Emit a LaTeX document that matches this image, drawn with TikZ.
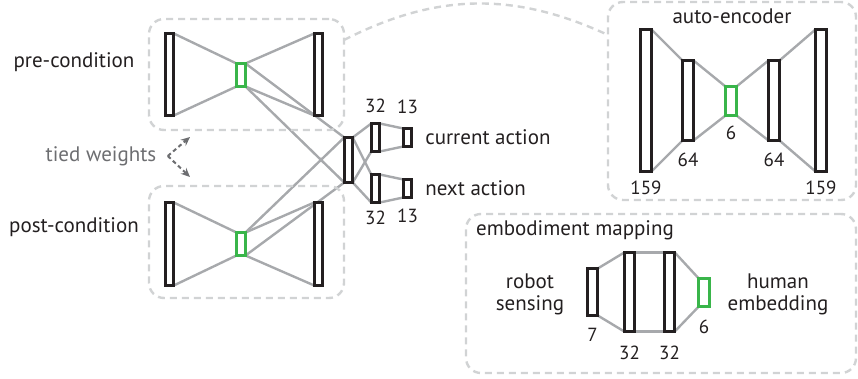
\documentclass[tikz,border=0pt]{standalone}
\usepackage{fontspec}
\setmainfont{PT Sans}
\usetikzlibrary{positioning,arrows.meta,backgrounds}
\definecolor{ink}{HTML}{231F20}
\definecolor{wiregray}{HTML}{A7A9AC}
\definecolor{framegray}{HTML}{D1D3D4}
\definecolor{tiegray}{HTML}{6D6E71}
\definecolor{codegreen}{HTML}{39B54A}
\begin{document}
\begin{tikzpicture}[x=1pt, y=-1pt, node distance=5pt,
  every node/.style={font=\fontsize{21}{22}\selectfont, text=ink},
  num/.style={font=\fontsize{19}{21}\selectfont},
  layer/.style={draw=ink, fill=white, line width=2.6pt, inner sep=0pt, outer sep=0pt, minimum width=8.5pt},
  wide/.style={layer, minimum width=11pt},
  latent/.style={draw=codegreen},
  wire/.style={draw=wiregray, line width=2.4pt},
  group/.style={draw=framegray, line width=2.4pt, dash pattern=on 7pt off 5pt, rounded corners=15pt, inner sep=0pt, outer sep=0pt},
  tie/.style={draw=tiegray, line width=2pt, dash pattern=on 4pt off 3pt, -{Stealth[length=9pt, width=8pt]}}]
\useasboundingbox (0,0) rectangle (858,379);
\node[group, minimum width=195pt, minimum height=111pt] (preBox) at (246.5,74.5) {};
\node[group, minimum width=195pt, minimum height=112pt] (postBox) at (246.5,242) {};
\node[group, minimum width=248pt, minimum height=198pt] (aeBox) at (732,101) {};
\node[group, minimum width=390pt, minimum height=159pt] (emBox) at (661,293.5) {};
\draw[group] ([yshift=-21pt]preBox.north east) to[bend left=26] ([yshift=-33pt]aeBox.north west);

\node[layer, minimum height=82pt] (preIn) at (169.5,74.5) {};
\node[layer, latent, minimum width=9pt, minimum height=23pt] (preCode) at (241,75) {};
\node[layer, minimum height=82pt] (preOut) at (318.5,74.5) {};
\node[layer, minimum height=83pt] (postIn) at (169.5,244) {};
\node[layer, latent, minimum width=9pt, minimum height=23pt] (postCode) at (241,244) {};
\node[layer, minimum height=83pt] (postOut) at (318.5,244) {};
\node[layer, minimum height=45pt] (joint) at (348.5,160) {};
\node[layer, minimum height=28pt] (curHid) at (375.5,137.5) {};
\node[layer, minimum height=28pt] (nextHid) at (375.5,188.5) {};
\node[layer, minimum height=18pt] (curOut) at (407.5,137.5) {};
\node[layer, minimum height=18pt] (nextOut) at (407.5,188.5) {};

\node[wide, minimum height=142pt] (aeIn) at (646,100.5) {};
\node[wide, minimum height=80pt] (aeEnc) at (688,100.5) {};
\node[wide, latent, minimum height=29pt] (aeCode) at (731,101) {};
\node[wide, minimum height=80pt] (aeDec) at (774,100.5) {};
\node[wide, minimum height=142pt] (aeOut) at (821,100.5) {};

\node[layer, minimum width=10.5pt, minimum height=47pt] (robIn) at (592.5,292) {};
\node[layer, minimum width=10.5pt, minimum height=79pt] (robA) at (629.5,292) {};
\node[layer, minimum width=10.5pt, minimum height=79pt] (robB) at (669.5,292) {};
\node[layer, latent, minimum width=10.5pt, minimum height=28pt] (robCode) at (704,292.5) {};

\begin{scope}[on background layer]
\draw[wire] (preIn.north east) -- (preCode.north west) (preIn.south east) -- (preCode.south west);
\draw[wire] (preCode.north east) -- (preOut.north west) (preCode.south east) -- (preOut.south west);
\draw[wire] (postIn.north east) -- (postCode.north west) (postIn.south east) -- (postCode.south west);
\draw[wire] (postCode.north east) -- (postOut.north west) (postCode.south east) -- (postOut.south west);
\draw[wire] (preCode.north east) -- (joint.north west) (preCode.south east) -- (joint.south west);
\draw[wire] (postCode.north east) -- (joint.north west) (postCode.south east) -- (joint.south west);
\draw[wire] (joint.north east) -- (curHid.north west) (joint.south east) -- (curHid.south west);
\draw[wire] (joint.north east) -- (nextHid.north west) (joint.south east) -- (nextHid.south west);
\draw[wire] (curHid.north east) -- (curOut.north west) (curHid.south east) -- (curOut.south west);
\draw[wire] (nextHid.north east) -- (nextOut.north west) (nextHid.south east) -- (nextOut.south west);
\draw[wire] (aeIn.north east) -- (aeEnc.north west) (aeIn.south east) -- (aeEnc.south west);
\draw[wire] (aeEnc.north east) -- (aeCode.north west) (aeEnc.south east) -- (aeCode.south west);
\draw[wire] (aeCode.north east) -- (aeDec.north west) (aeCode.south east) -- (aeDec.south west);
\draw[wire] (aeDec.north east) -- (aeOut.north west) (aeDec.south east) -- (aeOut.south west);
\draw[wire] (robIn.north east) -- (robA.north west) (robIn.south east) -- (robA.south west);
\draw[wire] (robA.north east) -- (robB.north west) (robA.south east) -- (robB.south west);
\draw[wire] (robB.north east) -- (robCode.north west) (robB.south east) -- (robCode.south west);
\end{scope}

\node (preTxt) at (74,62) {pre-condition};
\node (postTxt) at (74,227) {post-condition};
\node[text=tiegray] (tieTxt) at (101,156) {tied weights};
\coordinate[right=8pt of tieTxt] (tieFork);
\coordinate (tieUp) at (190,137);
\coordinate (tieDown) at (190,177);
\draw[tie] (tieFork) -- (tieUp);
\draw[tie] (tieFork) -- (tieDown);

\node[right=10pt of curOut] (curTxt) {current action};
\node[right=10pt of nextOut] (nextTxt) {next action};
\node[num, above=7pt of curHid] (curHidN) {32};
\node[num, above=11pt of curOut] (curOutN) {13};
\node[num, below=5pt of nextHid] (nextHidN) {32};
\node[num, below=8pt of nextOut] (nextOutN) {13};

\node (aeTxt) at (732,16) {auto-encoder};
\node[num, below=6pt of aeIn] (aeInN) {159};
\node[num, below=9pt of aeEnc] (aeEncN) {64};
\node[num, below=7pt of aeCode] (aeCodeN) {6};
\node[num, below=9pt of aeDec] (aeDecN) {64};
\node[num, below=6pt of aeOut] (aeOutN) {159};

\node (emTxt) at (575,230) {embodiment mapping};
\node[align=center] (robTxt) at (530,294) {robot\\sensing};
\node[align=center] (humTxt) at (778,294) {human\\embedding};
\node[num, below=9pt of robIn] (robInN) {7};
\node[num, below=11pt of robA] (robAN) {32};
\node[num, below=11pt of robB] (robBN) {32};
\node[num, below=10pt of robCode] (robCodeN) {6};
\end{tikzpicture}
\end{document}
